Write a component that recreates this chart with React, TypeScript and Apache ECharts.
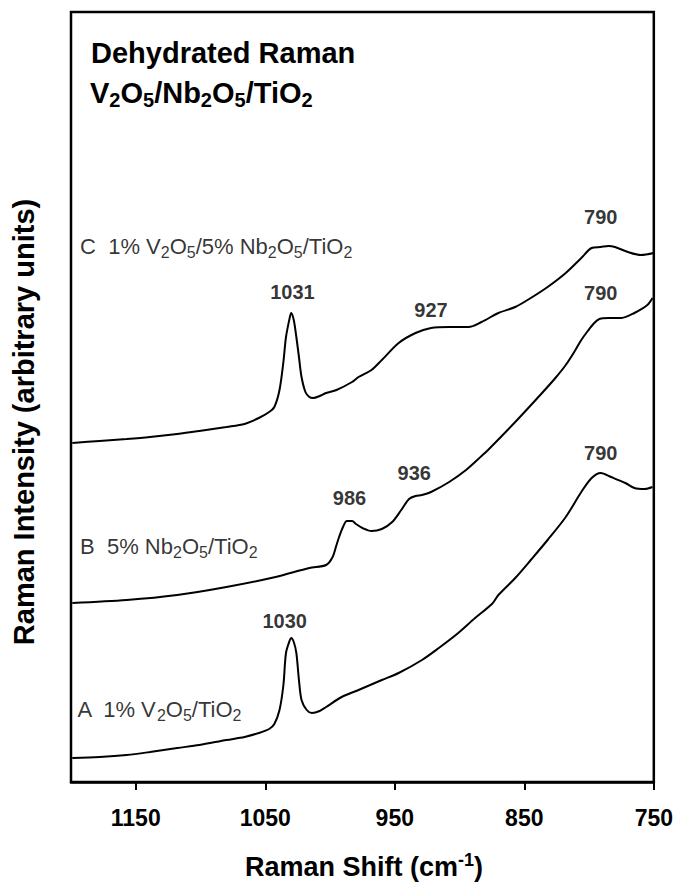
import React, { useEffect, useRef } from "react";
import * as echarts from "echarts";

// Raman shift (cm-1) and intensity (arbitrary units)
const shiftA = [1199, 1178, 1157, 1139, 1118, 1101, 1080, 1066, 1055, 1047, 1043, 1039, 1036, 1034, 1031, 1030, 1028, 1026, 1024, 1022, 1018, 1014, 1008, 1003, 991, 978, 960, 947, 929, 916, 901, 888, 875, 870, 857, 845, 832, 818, 806, 798, 791, 783, 772, 765, 757, 751];
const intensityA = [24, 25, 27, 30, 34, 37, 42, 45, 49, 53, 58, 72, 97, 129, 142, 144, 140, 129, 102, 82, 72, 69, 71, 75, 85, 92, 102, 109, 122, 134, 149, 164, 178, 187, 204, 222, 242, 265, 290, 304, 309, 305, 299, 294, 293, 295];

const shiftB = [1199, 1157, 1118, 1080, 1042, 1016, 1003, 998, 995, 993, 990, 987, 983, 980, 975, 968, 960, 952, 945, 939, 934, 929, 922, 908, 895, 883, 878, 857, 837, 826, 818, 811, 806, 801, 796, 792, 785, 775, 765, 755, 751];
const intensityB = [179, 182, 187, 195, 205, 214, 217, 225, 237, 245, 255, 261, 261, 258, 254, 251, 253, 260, 272, 283, 286, 287, 290, 300, 312, 326, 332, 360, 388, 404, 417, 431, 442, 451, 459, 463, 464, 464, 469, 477, 484];

const shiftC = [1199, 1178, 1157, 1139, 1118, 1101, 1080, 1066, 1055, 1047, 1043, 1039, 1036, 1034, 1031, 1030, 1028, 1026, 1024, 1022, 1019, 1016, 1013, 1008, 1003, 995, 983, 978, 968, 960, 947, 934, 922, 908, 893, 883, 870, 857, 845, 832, 818, 806, 798, 791, 785, 780, 770, 760, 750];
const intensityC = [339, 341, 343, 345, 348, 351, 355, 358, 364, 370, 375, 392, 420, 445, 465, 469, 462, 445, 425, 405, 390, 385, 384, 386, 389, 392, 400, 405, 412, 422, 439, 449, 454, 455, 455, 460, 469, 475, 484, 495, 509, 524, 534, 535, 536, 535, 530, 527, 529];

const xTicks = [750, 850, 950, 1050, 1150];

const peakTexts = ["790", "1031", "927", "790", "986", "936", "790", "1030"];
const curveTexts = ["C  1% V_2O_5/5% Nb_2O_5/TiO_2", "B  5% Nb_2O_5/TiO_2", "A  1% V_2O_5/TiO_2"];
const titleLine1 = "Dehydrated Raman";
const titleLine2 = "V_2O_5/Nb_2O_5/TiO_2";
const yTitle = "Raman Intensity (arbitrary units)";
const xTitleMain = "Raman Shift (cm";
const xTitleSup = "-1";

// anchors (data coordinates) for annotations
const peakAnchors: [number, number][] = [
  [791, 565], [1029, 490], [922, 472], [791, 489], [985, 284], [935, 309], [791, 329], [1035, 161],
];
const curveAnchors: [number, number][] = [[1193, 536], [1193, 236], [1195, 73]];

const FONT = "'Liberation Sans', Arial, Helvetica, sans-serif";

function toRich(src: string): string {
  const out: string[] = [];
  let buf = "";
  for (let i = 0; i < src.length; i++) {
    const ch = src[i];
    if (ch === "_") {
      if (buf) out.push(`{n|${buf}}`);
      buf = "";
      out.push(`{s|${src[i + 1]}}`);
      i++;
    } else buf += ch;
  }
  if (buf) out.push(`{n|${buf}}`);
  return out.join("");
}

export default function App() {
  const ref = useRef<HTMLDivElement>(null);
  useEffect(() => {
    document.body.style.margin = "0";
    const chart = echarts.init(ref.current!, undefined, { renderer: "svg" });
    const line = (xs: number[], ys: number[], name: string) => ({
      type: "line",
      name,
      data: xs.map((x, i) => [x, ys[i]]),
      showSymbol: false,
      symbol: "none",
      smooth: 0.3,
      lineStyle: { color: "#000", width: 2 },
      silent: true,
      z: 3,
    });
    const option: any = {
      animation: false,
      grid: { left: 71, right: 20, top: 12, bottom: 104, show: true, borderColor: "#000", borderWidth: 2.5, backgroundColor: "transparent" },
      xAxis: {
        type: "value",
        min: 750,
        max: 1200,
        inverse: true,
        splitLine: { show: false },
        axisLine: { show: true, lineStyle: { color: "#000", width: 2.5 } },
        axisTick: { show: true, customValues: xTicks, length: 8, inside: false, lineStyle: { color: "#000", width: 2 } },
        axisLabel: {
          show: true,
          customValues: xTicks,
          margin: 24,
          color: "#000",
          fontSize: 23,
          fontWeight: "bold",
          fontFamily: FONT,
          formatter: (v: number) => String(v),
        },
      },
      yAxis: { type: "value", min: 0, max: 770, show: false },
      series: [
        line(shiftA, intensityA, "A"),
        line(shiftB, intensityB, "B"),
        line(shiftC, intensityC, "C"),
        {
          type: "scatter",
          symbolSize: 0,
          silent: true,
          data: peakAnchors.map((p, i) => [p[0], p[1], peakTexts[i]]),
          label: {
            show: true,
            position: "inside",
            formatter: (p: any) => p.data[2],
            color: "#000",
            fontSize: 20,
            fontWeight: "bold",
            fontFamily: FONT,
          },
          z: 5,
        },
        {
          type: "scatter",
          symbolSize: 0,
          silent: true,
          data: curveAnchors.map((p, i) => [p[0], p[1], curveTexts[i]]),
          label: {
            show: true,
            position: [0, 0],
            align: "left",
            verticalAlign: "middle",
            formatter: (p: any) => toRich(p.data[2]),
            rich: {
              n: { fontSize: 22, lineHeight: 28, color: "#000", fontFamily: FONT, verticalAlign: "middle" },
              s: { fontSize: 16, lineHeight: 14, color: "#000", fontFamily: FONT, verticalAlign: "bottom" },
            },
          },
          z: 5,
        },
      ],
      graphic: [
        {
          type: "text",
          x: 91,
          y: 53,
          style: { text: titleLine1, align: "left", verticalAlign: "middle", font: `bold 29px ${FONT}`, fill: "#000" },
        },
        {
          type: "text",
          x: 90,
          y: 93,
          style: {
            text: toRich(titleLine2),
            align: "left",
            verticalAlign: "middle",
            rich: {
              n: { fontSize: 29, fontWeight: "bold", lineHeight: 34, fill: "#000", fontFamily: FONT, verticalAlign: "middle" },
              s: { fontSize: 20, fontWeight: "bold", lineHeight: 16, fill: "#000", fontFamily: FONT, verticalAlign: "bottom" },
            },
          },
        },
        {
          type: "text",
          x: 24,
          y: 422,
          rotation: Math.PI / 2,
          style: { text: yTitle, align: "center", verticalAlign: "middle", font: `bold 29px ${FONT}`, fill: "#000" },
        },
        {
          type: "text",
          x: 364,
          y: 867,
          style: {
            text: `{n|${xTitleMain}}{p|${xTitleSup}}{n|)}`,
            align: "center",
            verticalAlign: "middle",
            rich: {
              n: { fontSize: 27, fontWeight: "bold", lineHeight: 32, fill: "#000", fontFamily: FONT, verticalAlign: "middle" },
              p: { fontSize: 18, fontWeight: "bold", lineHeight: 16, fill: "#000", fontFamily: FONT, verticalAlign: "top" },
            },
          },
        },
      ],
    };
    chart.setOption(option);
    return () => chart.dispose();
  }, []);
  return (
    <div
      ref={ref}
      style={{ position: "absolute", left: 0, top: 0, width: 676, height: 886, background: "#fff" }}
    />
  );
}
